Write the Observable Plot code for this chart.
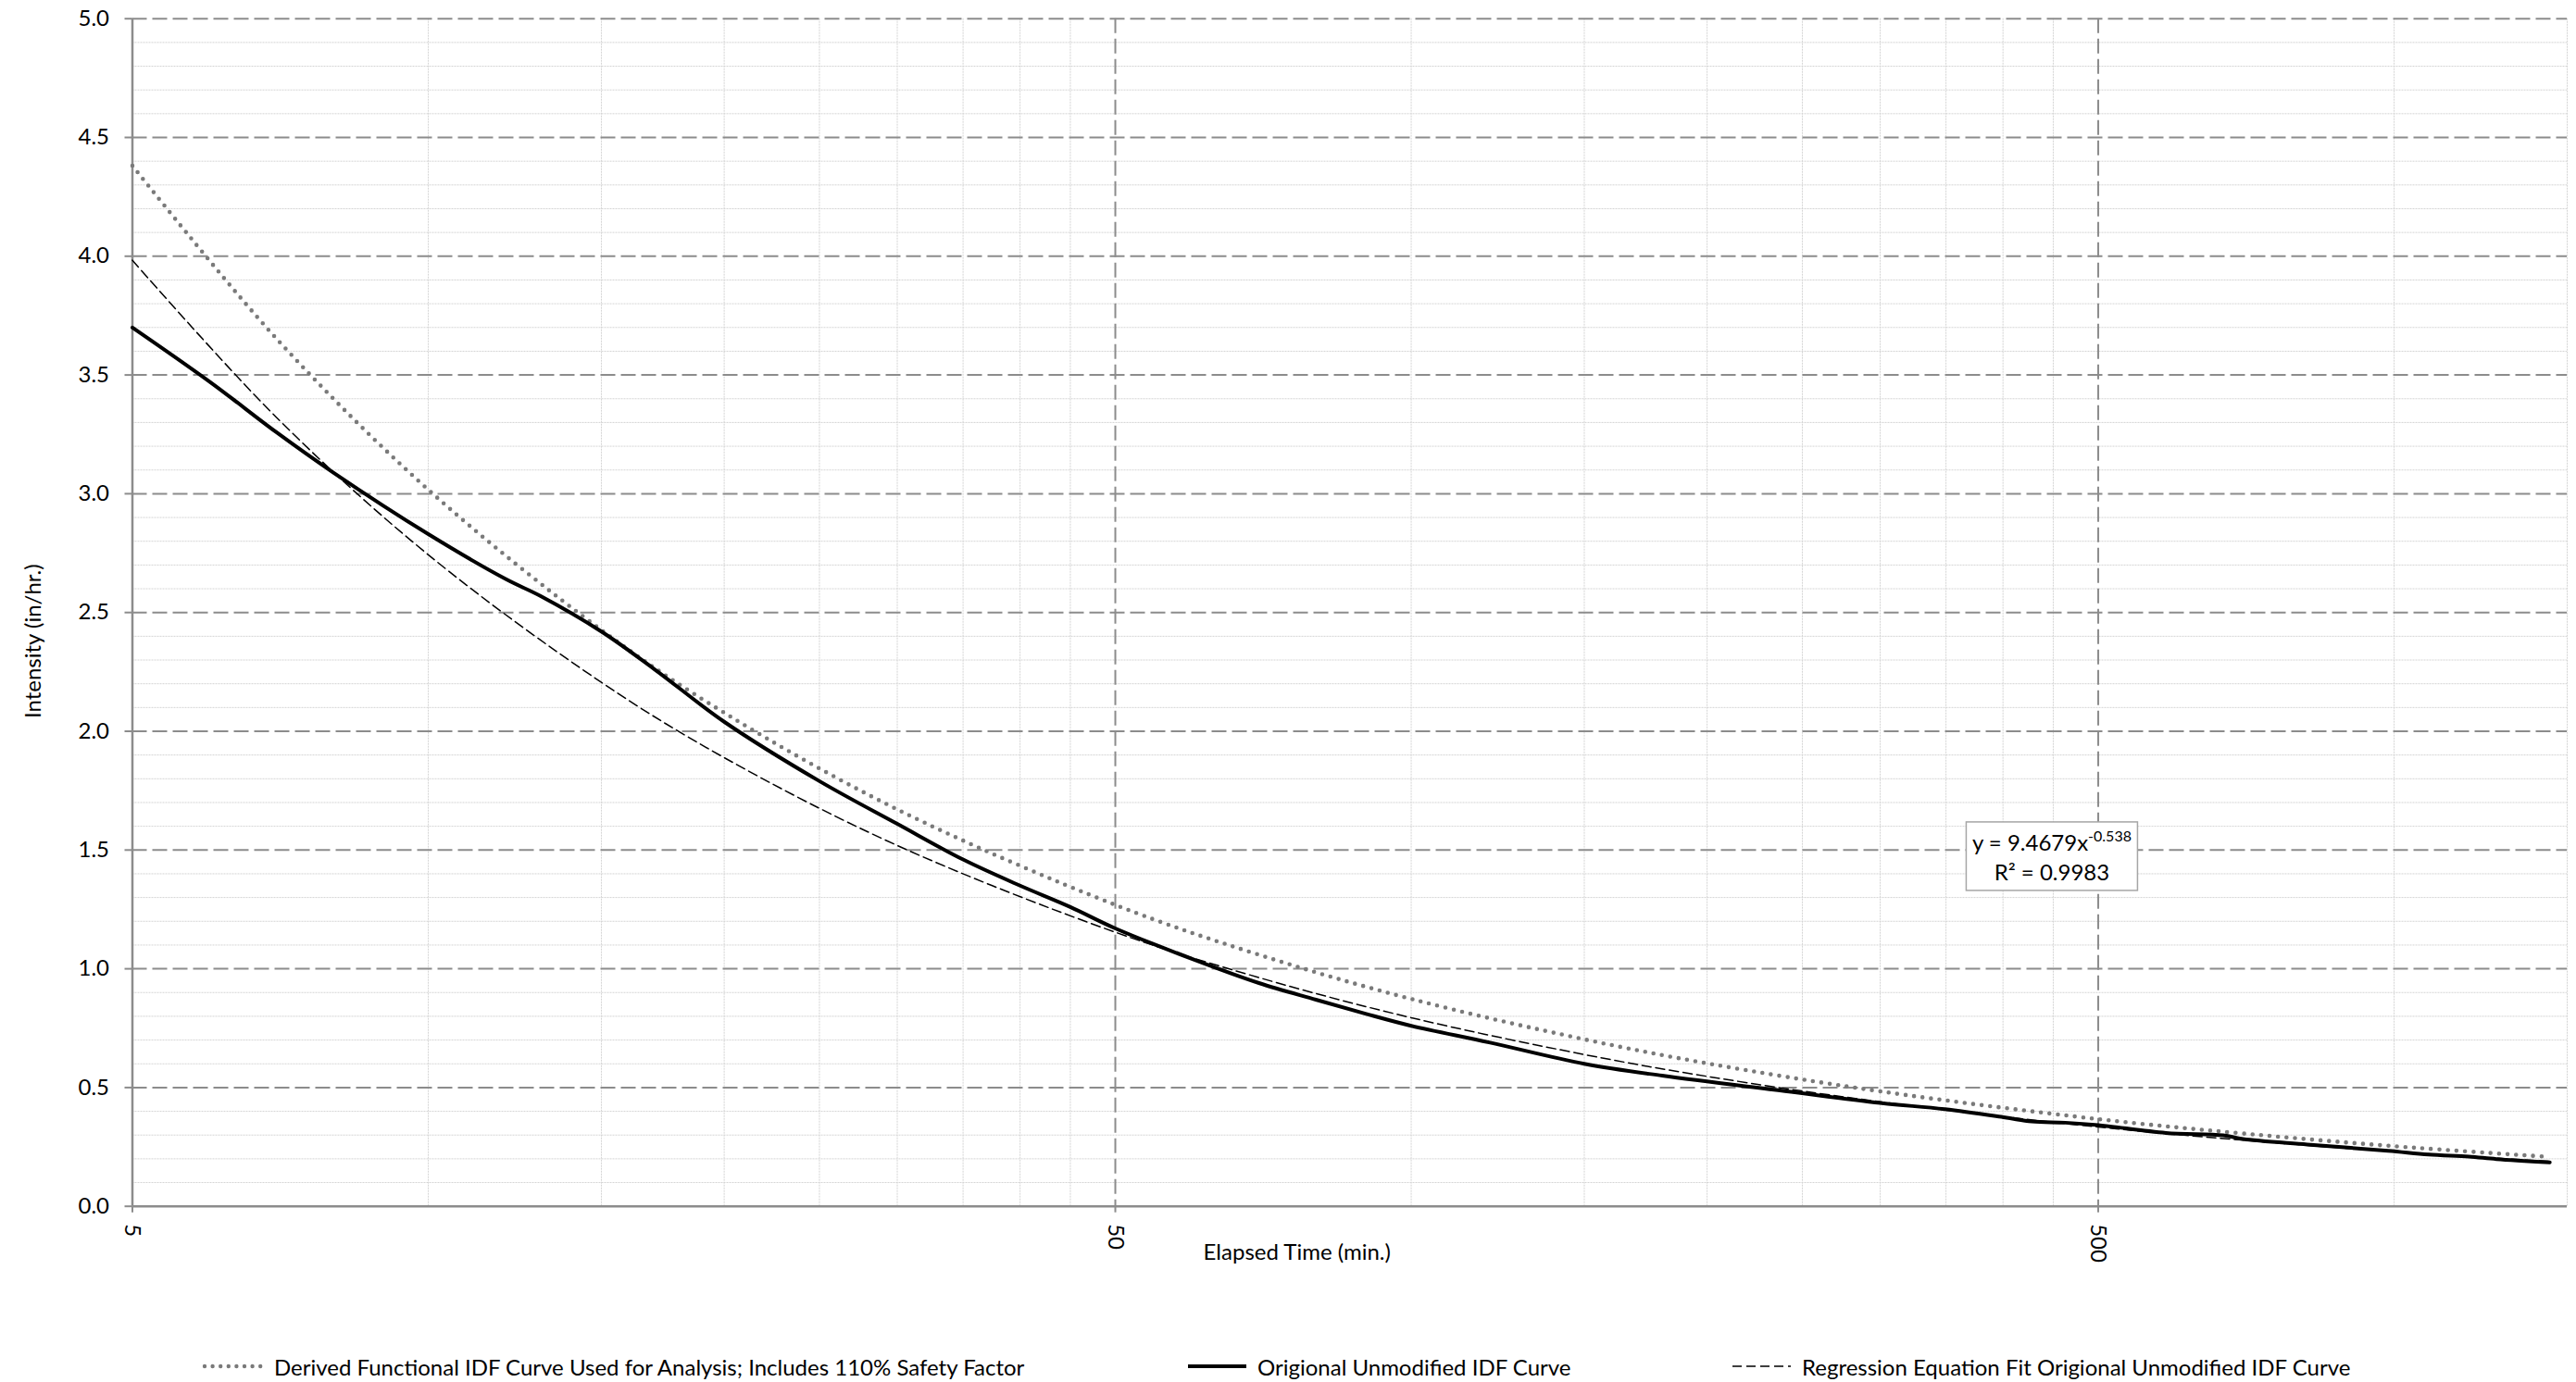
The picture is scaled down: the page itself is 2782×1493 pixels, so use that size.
<!DOCTYPE html>
<html>
<head>
<meta charset="utf-8">
<script src="https://cdn.jsdelivr.net/npm/d3@7"></script>
<script src="https://cdn.jsdelivr.net/npm/@observablehq/plot@0.6"></script>
<style>
  html, body { margin: 0; padding: 0; background: #fff; }
  #wrap { position: relative; width: 2782px; height: 1493px; overflow: hidden; font-family: Lato, "Open Sans", sans-serif; }
  #chart svg { display: block; }
  .leg { position: absolute; top: 1461px; height: 30px; display: flex; align-items: center; font-size: 24px; color: #000; white-space: nowrap; }
  .leg svg { margin-right: 10px; }
</style>
</head>
<body>
<div id="wrap">
  <div id="chart"></div>
  <div id="legend"></div>
</div>
<script>
// ---------------- data ----------------
const FONT = "Lato, 'Open Sans', sans-serif";

// Axis ticks
const yMajor = [0, 0.5, 1.0, 1.5, 2.0, 2.5, 3.0, 3.5, 4.0, 4.5, 5.0];
const yMinor = [0.1,0.2,0.3,0.4,0.6,0.7,0.8,0.9,1.1,1.2,1.3,1.4,1.6,1.7,1.8,1.9,2.1,2.2,2.3,2.4,2.6,2.7,2.8,2.9,3.1,3.2,3.3,3.4,3.6,3.7,3.8,3.9,4.1,4.2,4.3,4.4,4.6,4.7,4.8,4.9];
const xMajor = [5, 50, 500];
const xMinor = [10,15,20,25,30,35,40,45,100,150,200,250,300,350,400,450,1000,1500];

// Origional Unmodified IDF Curve
const origTime = [5, 6, 7, 8, 10, 12, 13, 15, 17, 20, 25, 30, 35, 40, 45, 50, 60, 70, 80, 90, 100, 120, 150, 180, 240, 300, 349, 402, 428, 463, 500, 586, 670, 702, 816, 986, 1084, 1191, 1271, 1440];
const origVal  = [3.70, 3.47, 3.26, 3.09, 2.83, 2.64, 2.57, 2.42, 2.26, 2.04, 1.79, 1.61, 1.46, 1.35, 1.26, 1.17, 1.04, 0.94, 0.87, 0.81, 0.76, 0.69, 0.60, 0.55, 0.485, 0.435, 0.409, 0.374, 0.357, 0.352, 0.342, 0.309, 0.299, 0.283, 0.260, 0.234, 0.218, 0.209, 0.199, 0.185];

// Regression Equation Fit
const fitTime = [5, 7, 10, 15, 20, 30, 50, 70, 100, 150, 200, 300, 500, 700, 1000, 1440];
const fitVal  = [3.983, 3.323, 2.743, 2.206, 1.889, 1.519, 1.154, 0.963, 0.794, 0.639, 0.547, 0.440, 0.334, 0.279, 0.230, 0.189];

// Derived Functional IDF Curve
const derTime = [5, 7, 10, 15, 20, 30, 50, 70, 100, 150, 200, 300, 500, 700, 1000, 1440];
const derVal  = [4.381, 3.655, 3.017, 2.426, 2.078, 1.671, 1.269, 1.059, 0.873, 0.703, 0.602, 0.484, 0.367, 0.307, 0.253, 0.208];

const seriesNames = [
  "Derived Functional IDF Curve Used for Analysis; Includes 110% Safety Factor",
  "Origional Unmodified IDF Curve",
  "Regression Equation Fit Origional Unmodified IDF Curve"
];
const xTitle = "Elapsed Time (min.)";
const yTitle = "Intensity (in/hr.)";
const eqLine1 = "y = 9.4679x";
const eqExp = "-0.538";
const eqLine2 = "R² = 0.9983";
const eqAnchor = {x: 449, y: 1.48};

// ---------------- build ----------------
const orig = origTime.map((t, i) => ({t, v: origVal[i]}));
const fit = fitTime.map((t, i) => ({t, v: fitVal[i]}));
const der = derTime.map((t, i) => ({t, v: derVal[i]}));

const GRID_MAJOR = "#8c8c8c";
const GRID_MINOR = "#d4d4d4";
const DOT_COLOR = "#7a7a7a";
const DOTS = "0,9.2";

const chart = Plot.plot({
  width: 2782,
  height: 1420,
  marginLeft: 142.5,
  marginRight: 10,
  marginTop: 19.7,
  marginBottom: 117.3,
  style: {fontFamily: FONT, fontSize: "24px", color: "#000", background: "#fff"},
  x: {type: "log", domain: [5, 1500]},
  y: {domain: [0, 5]},
  marks: [
    Plot.ruleY(yMinor, {stroke: GRID_MINOR, strokeWidth: 1, strokeDasharray: "2,1"}),
    Plot.ruleX(xMinor, {stroke: GRID_MINOR, strokeWidth: 1, strokeDasharray: "2,1"}),
    Plot.ruleY(yMajor.filter(v => v > 0), {stroke: GRID_MAJOR, strokeWidth: 2, strokeDasharray: "16,6"}),
    Plot.ruleX(xMajor.filter(v => v > 5), {stroke: GRID_MAJOR, strokeWidth: 2, strokeDasharray: "16,6"}),
    Plot.axisY({ticks: yMajor, tickFormat: d3.format(".1f"), tickSize: 8, tickPadding: 17, stroke: GRID_MAJOR, strokeWidth: 2, label: null, fontSize: 24}),
    Plot.axisX({ticks: xMajor, tickFormat: () => "", tickSize: 7, stroke: GRID_MAJOR, strokeWidth: 2, label: null}),
    Plot.text(xMajor, {x: d => d, frameAnchor: "bottom", text: d => String(d), rotate: 90, textAnchor: "start", lineAnchor: "middle", dy: 19, fontSize: 24, fill: "#000"}),
    Plot.ruleX([5], {stroke: GRID_MAJOR, strokeWidth: 2.5}),
    Plot.ruleY([0], {stroke: GRID_MAJOR, strokeWidth: 2.5}),
    Plot.line(fit, {x: "t", y: "v", stroke: "#000", strokeWidth: 1.5, strokeDasharray: "10,5", curve: "catmull-rom"}),
    Plot.line(der, {x: "t", y: "v", stroke: DOT_COLOR, strokeWidth: 4.6, strokeDasharray: DOTS, strokeLinecap: "round", curve: "catmull-rom"}),
    Plot.line(orig, {x: "t", y: "v", stroke: "#000", strokeWidth: 4, curve: "catmull-rom"}),
    Plot.text([yTitle], {frameAnchor: "left", textAnchor: "middle", lineAnchor: "middle", rotate: -90, dx: -107, dy: 31, fontSize: 24, fill: "#000"}),
    Plot.text([xTitle], {frameAnchor: "bottom", textAnchor: "middle", lineAnchor: "middle", dx: -57, dy: 50, fontSize: 24, fill: "#000"})
  ]
});
document.getElementById("chart").appendChild(chart);

// ---------------- equation annotation ----------------
(function () {
  const svg = d3.select(chart);
  const cx = chart.scale("x").apply(eqAnchor.x);
  const cy = chart.scale("y").apply(eqAnchor.y);
  const g = svg.append("g").attr("font-family", FONT).attr("font-size", 24).attr("fill", "#000");
  const rect = g.append("rect").attr("fill", "#fff").attr("stroke", "#a6a6a6").attr("stroke-width", 1.5);
  const t1 = g.append("text").attr("text-anchor", "middle").attr("x", cx).attr("y", cy - 4);
  t1.append("tspan").text(eqLine1);
  t1.append("tspan").attr("font-size", 16).attr("dy", -10).text(eqExp);
  g.append("text").attr("text-anchor", "middle").attr("x", cx).attr("y", cy + 28).text(eqLine2);
  const w = 185, h = 74;
  rect.attr("x", cx - w / 2).attr("y", cy - 35).attr("width", w).attr("height", h);
})();

// ---------------- legend ----------------
(function () {
  const legend = document.getElementById("legend");
  const items = [
    {name: seriesNames[0], left: 218, stroke: DOT_COLOR, width: 4.4, dash: "0,8.6", cap: "round"},
    {name: seriesNames[1], left: 1280, stroke: "#000", width: 4, dash: null, cap: "butt"},
    {name: seriesNames[2], left: 1868, stroke: "#000", width: 1.5, dash: "10,5", cap: "butt"}
  ];
  for (const it of items) {
    const div = document.createElement("div");
    div.className = "leg";
    div.style.left = it.left + "px";
    const s = d3.create("svg").attr("width", 68).attr("height", 12);
    s.append("line").attr("x1", 3).attr("x2", 66).attr("y1", 6).attr("y2", 6)
      .attr("stroke", it.stroke).attr("stroke-width", it.width)
      .attr("stroke-linecap", it.cap)
      .attr("stroke-dasharray", it.dash);
    div.appendChild(s.node());
    const span = document.createElement("span");
    span.textContent = it.name;
    div.appendChild(span);
    legend.appendChild(div);
  }
})();
</script>
</body>
</html>
